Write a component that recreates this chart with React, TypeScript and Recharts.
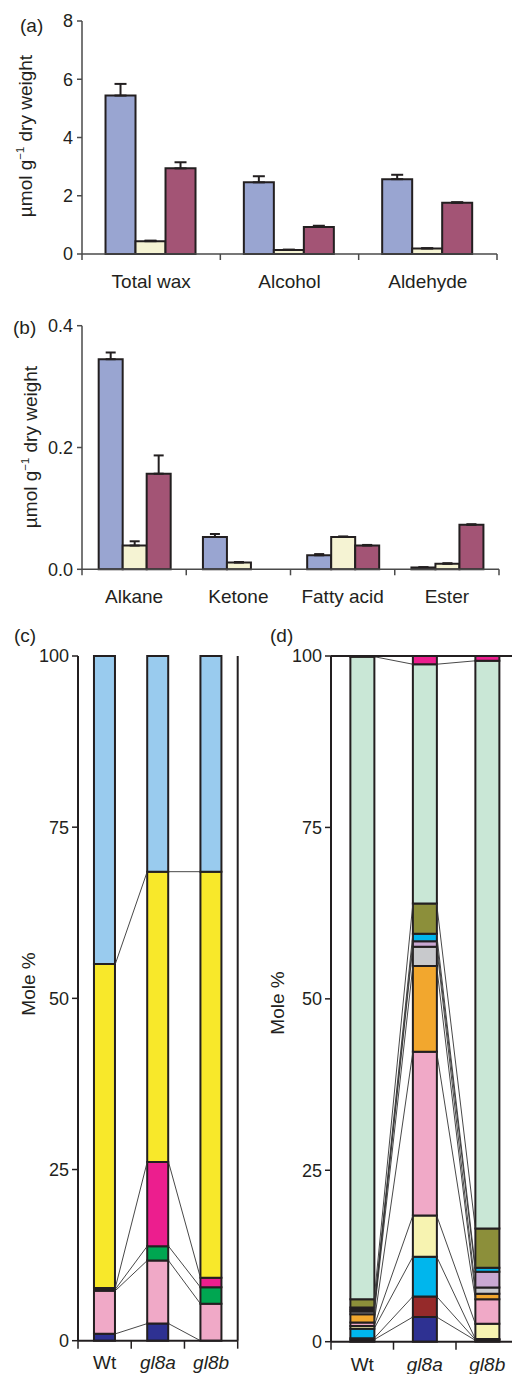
import React from 'react';
import { BarChart, Bar, XAxis, YAxis, ErrorBar, ReferenceLine } from 'recharts';

const FONT = '"Liberation Sans", Arial, Helvetica, sans-serif';
const INK = '#231f20';
const AXIS = '#4a4a4a';

// (a) total wax and major classes, umol/g dry weight
const waxClasses = ['Total wax', 'Alcohol', 'Aldehyde'];
const waxWt = [5.44, 2.46, 2.57];
const waxWtErr = [0.4, 0.21, 0.15];
const waxGl8a = [0.44, 0.14, 0.19];
const waxGl8aErr = [0.02, 0.01, 0.01];
const waxGl8b = [2.94, 0.93, 1.76];
const waxGl8bErr = [0.21, 0.04, 0.02];

// (b) minor classes
const minorClasses = ['Alkane', 'Ketone', 'Fatty acid', 'Ester'];
const minorWt = [0.345, 0.053, 0.023, 0.003];
const minorWtErr = [0.011, 0.005, 0.002, 0.0005];
const minorGl8a = [0.039, 0.011, 0.053, 0.009];
const minorGl8aErr = [0.007, 0.001, 0.001, 0.001];
const minorGl8b = [0.157, 0, 0.039, 0.073];
const minorGl8bErr = [0.03, 0, 0.001, 0.001];

const strains = ['Wt', 'gl8a', 'gl8b'];

// (c) mole % per segment, bottom to top: Wt, gl8a, gl8b
const cSeries = [
  { key: 'c1', color: '#2e3192', vals: [1.0, 2.5, 0] },
  { key: 'c2', color: '#f0a9c7', vals: [6.3, 9.2, 5.4] },
  { key: 'c3', color: '#00a651', vals: [0.2, 2.1, 2.4] },
  { key: 'c4', color: '#ec1e8e', vals: [0.2, 12.3, 1.4] },
  { key: 'c5', color: '#f8e82a', vals: [47.3, 42.4, 59.3] },
  { key: 'c6', color: '#99cbee', vals: [45.0, 31.5, 31.5] },
];

// (d) mole % per segment, bottom to top
const dSeries = [
  { key: 'd1', color: '#2e3192', vals: [0.3, 3.6, 0.2] },
  { key: 'd2', color: '#952a2a', vals: [0.2, 3.0, 0.1] },
  { key: 'd3', color: '#00b6ed', vals: [1.4, 5.8, 0.1] },
  { key: 'd4', color: '#f7f3b1', vals: [0.4, 6.0, 2.2] },
  { key: 'd5', color: '#f0a9c7', vals: [0.5, 23.9, 3.6] },
  { key: 'd6', color: '#f2a72e', vals: [1.2, 12.5, 0.8] },
  { key: 'd7', color: '#c8c9cc', vals: [0.4, 2.8, 0.9] },
  { key: 'd8', color: '#c9a8d2', vals: [0.3, 0.8, 2.3] },
  { key: 'd9', color: '#00b6ed', vals: [0.3, 1.1, 0.6] },
  { key: 'd10', color: '#8c8f3a', vals: [1.2, 4.4, 5.7] },
  { key: 'd11', color: '#c9e7d6', vals: [93.7, 34.9, 82.8] },
  { key: 'd12', color: '#ec1e8e', vals: [0.1, 1.2, 0.7] },
];

// pos = centre of each category on the numeric helper axis
const rowsA = waxClasses.map((name, i) => ({
  name, pos: i + 0.5,
  wt: waxWt[i], wtErr: [0, waxWtErr[i]],
  a: waxGl8a[i], aErr: [0, waxGl8aErr[i]],
  b: waxGl8b[i], bErr: [0, waxGl8bErr[i]],
}));

const rowsB = minorClasses.map((name, i) => ({
  name, pos: i + 0.5,
  wt: minorWt[i], wtErr: [0, minorWtErr[i]],
  a: minorGl8a[i], aErr: [0, minorGl8aErr[i]],
  b: minorGl8b[i], bErr: [0, minorGl8bErr[i]],
}));

const stackRows = (series: { key: string; vals: number[] }[]) =>
  strains.map((name, i) => {
    const row: any = { name, pos: i + 0.5 };
    series.forEach(s => { row[s.key] = s.vals[i]; });
    return row;
  });

const rowsC = stackRows(cSeries);
const rowsD = stackRows(dSeries);

const halfTicks = (n: number) => Array.from({ length: 2 * n + 1 }, (_, i) => i / 2);

// boundary tick marks at integers, category names at the half positions
const makeXTick = (labels: string[], tickLen: number, labelDy: number, italic: boolean, color: string) =>
  (props: any) => {
    const { x, y, payload } = props;
    const v = payload.value;
    if (Number.isInteger(v)) {
      return <line x1={x} y1={y} x2={x} y2={y + tickLen} stroke={color} strokeWidth={1.5} />;
    }
    const idx = Math.floor(v);
    return (
      <text x={x} y={y + labelDy} textAnchor="middle" fontSize={19} fontFamily={FONT} fill={INK}
        fontStyle={italic && idx > 0 ? 'italic' : 'normal'}>
        {labels[idx]}
      </text>
    );
  };

const linkLines = (series: { vals: number[] }[], gap: number, skipTop: boolean) => {
  const n = strains.length;
  let acc = new Array(n).fill(0);
  const out: React.ReactNode[] = [];
  series.forEach((s, si) => {
    acc = acc.map((a, i) => a + s.vals[i]);
    if (skipTop && si === series.length - 1) return;
    for (let i = 0; i < n - 1; i++) {
      out.push(
        <ReferenceLine key={`l${si}-${i}`} xAxisId="num" ifOverflow="visible"
          segment={[{ x: i + 1 - gap, y: acc[i] }, { x: i + 1 + gap, y: acc[i + 1] }]}
          stroke="#333" strokeWidth={0.9} />
      );
    }
  });
  return out;
};

const RotLabel = ({ cx, cy, children }: { cx: number; cy: number; children: React.ReactNode }) => (
  <div style={{
    position: 'absolute', left: cx, top: cy, transform: 'translate(-50%, -50%) rotate(-90deg)',
    whiteSpace: 'nowrap', fontSize: 19, lineHeight: 1, fontFamily: FONT, color: INK,
  }}>{children}</div>
);

const Tag = ({ x, y, text }: { x: number; y: number; text: string }) => (
  <div style={{ position: 'absolute', left: x, top: y, fontSize: 19, lineHeight: 1, fontFamily: FONT, color: INK }}>{text}</div>
);

const unitLabel = (
  <span>µmol g<sup style={{ fontSize: '0.6em', verticalAlign: 'top', position: 'relative', top: '-0.1em' }}>−1</sup> dry weight</span>
);

const yTick = { fontSize: 18, fill: INK, fontFamily: FONT };

const groupBars = [
  { key: 'wt', err: 'wtErr', color: '#99a5d1' },
  { key: 'a', err: 'aErr', color: '#f5f3d3' },
  { key: 'b', err: 'bErr', color: '#a35475' },
];

const numAxis = (n: number, height: number, labels: string[], tickLen: number, labelDy: number,
  italic: boolean, color: string, width: number) => (
  <XAxis xAxisId="num" type="number" dataKey="pos" domain={[0, n]} ticks={halfTicks(n)} interval={0}
    allowDataOverflow height={height} tickSize={0} tickMargin={0} tickLine={false}
    axisLine={{ stroke: color, strokeWidth: width }} tick={makeXTick(labels, tickLen, labelDy, italic, color)} />
);

const App: React.FC = () => {
  const gapC = 0.3;
  const gapD = 0.31;
  return (
    <div style={{ position: 'relative', width: 512, height: 1374, overflow: 'hidden', background: '#fff' }}>
      <style>{'body{margin:0}'}</style>

      {/* (a) */}
      <div style={{ position: 'absolute', left: 0, top: 0 }}>
        <BarChart width={512} height={300} data={rowsA} margin={{ top: 21, right: 15, left: 0, bottom: 6 }}
          barCategoryGap="17%" barGap={0}>
          <XAxis xAxisId="cat" dataKey="name" hide height={0} />
          {numAxis(3, 40, waxClasses, 6, 34, false, AXIS, 1.5)}
          <YAxis width={82} domain={[0, 8]} ticks={[0, 2, 4, 6, 8]} tickSize={5} tickMargin={4} tick={yTick}
            axisLine={{ stroke: AXIS, strokeWidth: 1.5 }} tickLine={{ stroke: AXIS, strokeWidth: 1.5 }} />
          {groupBars.map(g => (
            <Bar key={g.key} xAxisId="cat" dataKey={g.key} fill={g.color} stroke={INK} strokeWidth={2} isAnimationActive={false}>
              <ErrorBar dataKey={g.err} width={6} stroke={INK} strokeWidth={2} direction="y" isAnimationActive={false} />
            </Bar>
          ))}
        </BarChart>
      </div>

      {/* (b) */}
      <div style={{ position: 'absolute', left: 0, top: 300 }}>
        <BarChart width={512} height={310} data={rowsB} margin={{ top: 25.7, right: 13, left: 0, bottom: 4.7 }}
          barCategoryGap="16%" barGap={0}>
          <XAxis xAxisId="cat" dataKey="name" hide height={0} />
          {numAxis(4, 36, minorClasses, 6, 34, false, AXIS, 1.5)}
          <YAxis width={82} domain={[0, 0.4]} ticks={[0, 0.2, 0.4]} tickFormatter={(v: number) => v.toFixed(1)}
            tickSize={5} tickMargin={4} tick={yTick}
            axisLine={{ stroke: AXIS, strokeWidth: 1.5 }} tickLine={{ stroke: AXIS, strokeWidth: 1.5 }} />
          {groupBars.map(g => (
            <Bar key={g.key} xAxisId="cat" dataKey={g.key} fill={g.color} stroke={INK} strokeWidth={2} isAnimationActive={false}>
              <ErrorBar dataKey={g.err} width={5} stroke={INK} strokeWidth={2} direction="y" isAnimationActive={false} />
            </Bar>
          ))}
        </BarChart>
      </div>

      {/* (c) */}
      <div style={{ position: 'absolute', left: 0, top: 610 }}>
        <BarChart width={256} height={764} data={rowsC} margin={{ top: 46, right: 18.3, left: 0, bottom: 3.3 }}
          barCategoryGap={`${gapC * 100}%`}>
          <XAxis xAxisId="cat" dataKey="name" hide height={0} />
          {numAxis(3, 30, strains, 8, 28, true, INK, 2)}
          <YAxis width={78} domain={[0, 100]} ticks={[0, 25, 50, 75, 100]} tickSize={6} tickMargin={3} tick={yTick}
            axisLine={{ stroke: INK, strokeWidth: 2 }} tickLine={{ stroke: INK, strokeWidth: 1.5 }} />
          {linkLines(cSeries, gapC, true)}
          <ReferenceLine xAxisId="num" x={3} ifOverflow="visible" stroke={INK} strokeWidth={2} />
          {cSeries.map(s => (
            <Bar key={s.key} xAxisId="cat" dataKey={s.key} stackId="c" fill={s.color} stroke={INK} strokeWidth={2}
              isAnimationActive={false} />
          ))}
        </BarChart>
      </div>

      {/* (d) */}
      <div style={{ position: 'absolute', left: 256, top: 610 }}>
        <BarChart width={300} height={764} data={rowsD} margin={{ top: 46, right: 37.5, left: 0, bottom: 2.3 }}
          barCategoryGap={`${gapD * 100}%`}>
          <XAxis xAxisId="cat" dataKey="name" hide height={0} />
          {numAxis(3, 30, strains, 8, 29, true, INK, 2)}
          <YAxis width={75} domain={[0, 100]} ticks={[0, 25, 50, 75, 100]} tickSize={6} tickMargin={3} tick={yTick}
            axisLine={{ stroke: INK, strokeWidth: 2 }} tickLine={{ stroke: INK, strokeWidth: 1.5 }} />
          {linkLines(dSeries, gapD, false)}
          <ReferenceLine xAxisId="num" y={100} ifOverflow="visible" stroke={INK} strokeWidth={2} />
          {dSeries.map(s => (
            <Bar key={s.key} xAxisId="cat" dataKey={s.key} stackId="d" fill={s.color} stroke={INK} strokeWidth={2}
              isAnimationActive={false} />
          ))}
        </BarChart>
      </div>

      <Tag x={20} y={16} text="(a)" />
      <Tag x={13} y={318} text="(b)" />
      <Tag x={14} y={626} text="(c)" />
      <Tag x={270} y={626} text="(d)" />

      <RotLabel cx={25} cy={136}>{unitLabel}</RotLabel>
      <RotLabel cx={30} cy={447}>{unitLabel}</RotLabel>
      <RotLabel cx={28} cy={984}>Mole %</RotLabel>
      <RotLabel cx={277} cy={1003}>Mole %</RotLabel>
    </div>
  );
};

export default App;
